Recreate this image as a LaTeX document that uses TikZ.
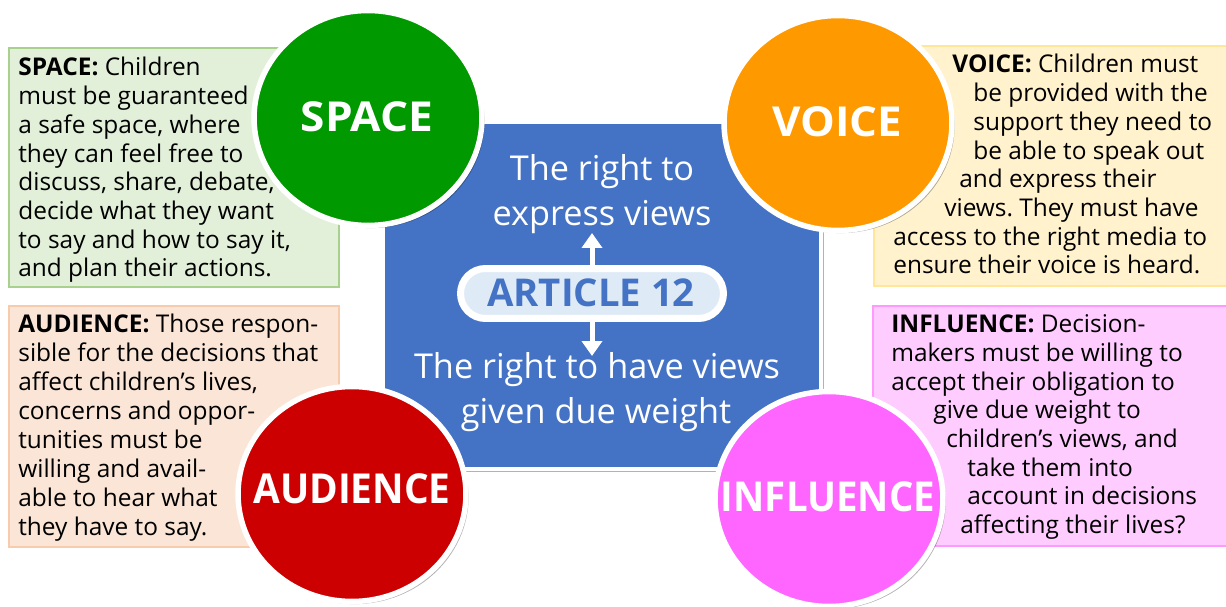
\documentclass[tikz,border=0pt]{standalone}
\usepackage{fontspec}
\setmainfont{Open Sans}
\usetikzlibrary{arrows.meta,shadows,shapes.geometric}
\definecolor{blueA}{HTML}{4472C4}
\definecolor{greenC}{HTML}{009900}
\definecolor{orangeC}{HTML}{FF9900}
\definecolor{redC}{HTML}{CC0000}
\definecolor{pinkC}{HTML}{FF66FF}
\definecolor{greenF}{HTML}{E2F0D9}
\definecolor{greenD}{HTML}{A9D18E}
\definecolor{yellowF}{HTML}{FFF2CC}
\definecolor{yellowD}{HTML}{FFE699}
\definecolor{peachF}{HTML}{FBE5D6}
\definecolor{peachD}{HTML}{F8CBAD}
\definecolor{pinkF}{HTML}{FFCCFF}
\definecolor{pinkD}{HTML}{FF99FF}
\definecolor{pillF}{HTML}{DEEBF7}
\frenchspacing
\begin{document}
\begin{tikzpicture}[x=0.02cm,y=-0.02cm,
  body/.style={anchor=base west, inner sep=0, font=\fontsize{13.9}{16}\selectfont, text=black},
  infobox/.style={line width=0.03cm},
  bigdisc/.style={ellipse, draw=white, line width=0.11cm, minimum width=4.56cm, minimum height=4.3cm, inner sep=0,
    drop shadow={shadow xshift=1.5pt, shadow yshift=-1.5pt, opacity=0.3, fill=black}},
  disctext/.style={anchor=base, inner sep=0, text=white, font=\fontsize{23.5}{28}\selectfont\bfseries},
  bluetext/.style={anchor=base, inner sep=0, text=white, font=\fontsize{19.5}{24}\selectfont},
  whitearrow/.style={draw=white, line width=0.1cm, -{Triangle[width=0.4cm,length=0.3cm]}}
]
\fill[white] (0,0) rectangle (1226,607);
\useasboundingbox (0,0) rectangle (1226,607);

% text boxes
\draw[infobox, fill=greenF, draw=greenD] (9,48) rectangle (339,287);
\draw[infobox, fill=yellowF, draw=yellowD] (874,46) rectangle (1232,286);
\draw[infobox, fill=peachF, draw=peachD] (9,306) rectangle (339,547);
\draw[infobox, fill=pinkF, draw=pinkD] (873,306) rectangle (1232,546);

% central square
\node[draw=white, line width=0.08cm, fill=blueA, minimum width=8.76cm, minimum height=6.94cm, inner sep=0,
  drop shadow={shadow xshift=2pt, shadow yshift=-2pt, opacity=0.3, fill=black}] (square) at (602,295.5) {};

% texts in square
\node[bluetext] (t1) at (602,181) {The right to};
\node[bluetext] (t2) at (602,226) {express views};
\node[bluetext] (t3) at (597,378) {The right to have views};
\node[bluetext] (t4) at (596,423) {given due weight};

% article pill
\node[draw=white, line width=0.14cm, fill=pillF, minimum width=5.26cm, minimum height=1.0cm, rounded corners=0.5cm, inner sep=0,
  drop shadow={shadow xshift=1pt, shadow yshift=-1pt, opacity=0.35, fill=black}] (art) at (592,293.5) {};
\node[anchor=base, inner sep=0, text=blueA, font=\fontsize{21.8}{25}\selectfont\bfseries] (artT) at (591,307) {ARTICLE 12};
\coordinate (upT) at (592,233);
\coordinate (downT) at (592,356);
\draw[whitearrow] (art.north) -- (upT);
\draw[whitearrow] (art.south) -- (downT);

% SPACE text
\foreach \t [count=\i from 0] in {{\textbf{SPACE:} Children},{must be guaranteed},{a safe space, where},{they can feel free to},{discuss, share, debate,},{decide what they want},{to say and how to say it,},{and plan their actions.}}
  \node[body] (sp\i) at (18,{76+28.7*\i}) {\t};

% AUDIENCE text
\foreach \t [count=\i from 0] in {{\textbf{AUDIENCE:} Those respon-},{sible for the decisions that},{affect children’s lives,},{concerns and oppor-},{tunities must be},{willing and avail-},{able to hear what},{they have to say.}}
  \node[body] (au\i) at (18,{333+28.9*\i}) {\t};

% VOICE text
\foreach \xx/\t [count=\i from 0] in {952/{\textbf{VOICE:} Children must},973/{be provided with the},973/{support they need to},973/{be able to speak out},959/{and express their},944/{views. They must have},893/{access to the right media to},893/{ensure their voice is heard.}}
  \node[body] (vo\i) at (\xx,{73+28.7*\i}) {\t};

% INFLUENCE text
\foreach \xx/\t [count=\i from 0] in {891/{\textbf{INFLUENCE:} Decision-},891/{makers must be willing to},891/{accept their obligation to},933/{give due weight to},946/{children’s views, and},967/{take them into},967/{account in decisions},960/{affecting their lives?}}
  \node[body] (in\i) at (\xx,{333+28.6*\i}) {\t};

% discs
\node[bigdisc, fill=greenC] (space) at (368,118) {};
\node[bigdisc, fill=orangeC] (voice) at (838,123) {};
\node[bigdisc, fill=redC] (audience) at (352,494) {};
\node[bigdisc, fill=pinkC] (influence) at (829,499) {};
\node[disctext] (spaceT) at (367,132) {\scalebox{1.07}[1]{SPACE}};
\node[disctext] (voiceT) at (837,137) {\scalebox{1.06}[1]{VOICE}};
\node[disctext] (audienceT) at (352,503) {\scalebox{0.94}[1]{AUDIENCE}};
\node[disctext] (influenceT) at (828,511) {\scalebox{0.93}[1]{INFLUENCE}};
\end{tikzpicture}
\end{document}
